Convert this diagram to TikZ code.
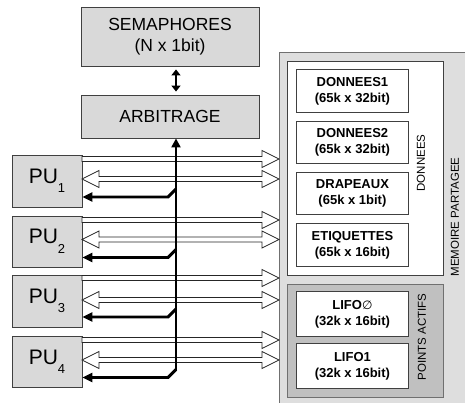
\documentclass[tikz,border=0pt]{standalone}
\usepackage{fontspec}
\setmainfont{Liberation Sans}
\newfontfamily\djv{DejaVu Sans}
\usetikzlibrary{arrows.meta,calc}
\definecolor{boxgray}{HTML}{D9D9D9}
\definecolor{memgray}{HTML}{DEDEDE}
\definecolor{pagray}{HTML}{C0C0C0}
\definecolor{edge}{HTML}{404040}
\definecolor{memedge}{HTML}{707070}
\newcommand\hollowR[3]{\filldraw[hollow] (#1,#3-2.5) -- (#2-17,#3-2.5) -- (#2-17,#3-8.5) -- (#2,#3) -- (#2-17,#3+8.5) -- (#2-17,#3+2.5) -- (#1,#3+2.5) -- cycle;}
\newcommand\hollowLR[3]{\filldraw[hollow] (#1,#3) -- (#1+17,#3-8.5) -- (#1+17,#3-2.5) -- (#2-17,#3-2.5) -- (#2-17,#3-8.5) -- (#2,#3) -- (#2-17,#3+8.5) -- (#2-17,#3+2.5) -- (#1+17,#3+2.5) -- (#1+17,#3+8.5) -- cycle;}
\newcommand\pusub[1]{\raisebox{-0.45em}{\fontsize{13}{14}\selectfont #1}}
\begin{document}
\begin{tikzpicture}[x=1pt,y=-1pt,
  graybox/.style={draw=edge, line width=0.9pt, fill=boxgray, inner sep=0pt, align=center},
  bigtxt/.style={font=\fontsize{17.5}{20.5}\selectfont},
  putxt/.style={font=\fontsize{21}{24}\selectfont},
  membox/.style={draw=memedge, line width=0.9pt, fill=memgray, inner sep=0pt, anchor=north west},
  whitebox/.style={draw=edge, line width=0.9pt, fill=white, inner sep=0pt, anchor=north west},
  pabox/.style={draw=memedge, line width=0.9pt, fill=pagray, inner sep=0pt, anchor=north west},
  subbox/.style={draw=edge, line width=0.9pt, fill=white, inner sep=0pt, anchor=north west,
     minimum width=112pt, align=center, font=\bfseries\fontsize{13}{16}\selectfont},
  sidelabel/.style={rotate=90, font=\fontsize{11.5}{13}\selectfont},
  hollow/.style={draw=black!85, line width=0.8pt, fill=white, line join=miter},
  bent/.style={line width=2.9pt, line join=miter, -{Triangle[length=10pt,width=9pt]}},
  busline/.style={line width=2.9pt, -{Triangle[length=9pt,width=9pt]}},
  dblarrow/.style={line width=2.9pt, {Triangle[length=6pt,width=9pt]}-{Triangle[length=6pt,width=9pt]}}
]
\useasboundingbox (0,0) rectangle (465,403);

% memory block
\node[membox, minimum width=190pt, minimum height=355pt] (mem) at (279,52) {};
\node[whitebox, minimum width=156pt, minimum height=214pt] (don) at (287,61) {};
\node[pabox, minimum width=156pt, minimum height=113pt] (pa) at (287,284) {};
\node[subbox, minimum height=43pt] (d1) at (296,69) {DONNEES1\\(65k x 32bit)};
\node[subbox, minimum height=42pt] (d2) at (296,121) {DONNEES2\\(65k x 32bit)};
\node[subbox, minimum height=42pt] (dr) at (296,172) {DRAPEAUX\\(65k x 1bit)};
\node[subbox, minimum height=43pt] (et) at (296,223) {ETIQUETTES\\(65k x 16bit)};
\node[subbox, minimum height=45pt] (l0) at (296,291) {LIFO{\mdseries\djv\fontsize{12}{14}\selectfont ∅}\\(32k x 16bit)};
\node[subbox, minimum height=45pt] (l1) at (296,343) {LIFO1\\(32k x 16bit)};
\node[sidelabel] (donlab) at (421,163) {DONNEES};
\node[sidelabel] (palab) at (422,337) {POINTS ACTIFS};
\node[sidelabel] (memlab) at (455,217) {MEMOIRE PARTAGEE};

% top boxes
\node[graybox, bigtxt, minimum width=178pt, minimum height=59pt] (sem) at (170,36.5) {SEMAPHORES\\(N x 1bit)};
\node[graybox, bigtxt, minimum width=178pt, minimum height=43pt] (arb) at (170,116.5) {ARBITRAGE};
\draw[dblarrow] ($(sem.south)+(6,3)$) -- ($(arb.north)+(6,-3)$);

% PU boxes
\node[graybox, putxt, minimum width=70pt, minimum height=52pt] (pu1) at (47,181) {PU\pusub{1}};
\node[graybox, putxt, minimum width=70pt, minimum height=51pt] (pu2) at (47,241.5) {PU\pusub{2}};
\node[graybox, putxt, minimum width=70pt, minimum height=52pt] (pu3) at (47,301) {PU\pusub{3}};
\node[graybox, putxt, minimum width=70pt, minimum height=51pt] (pu4) at (47,361.5) {PU\pusub{4}};

% hollow bus arrows
\hollowR{82}{279}{159}
\hollowLR{82}{279}{179}
\hollowR{82}{279}{220}
\hollowLR{82}{279}{239.5}
\hollowR{82}{279}{278}
\hollowLR{82}{279}{300}
\hollowR{82}{279}{340}
\hollowLR{82}{279}{360}

% control bus
\coordinate (busbot) at (176,369.5);
\draw[busline] (busbot) -- ($(arb.south)+(6,0)$);
\draw[bent] (176,189) -- (168,197) -- (pu1.east |- 0,197);
\draw[bent] (176,249.5) -- (168,257.5) -- (pu2.east |- 0,257.5);
\draw[bent] (176,309) -- (168,317) -- (pu3.east |- 0,317);
\draw[bent] (busbot) -- (168,377.5) -- (pu4.east |- 0,377.5);
\end{tikzpicture}
\end{document}
